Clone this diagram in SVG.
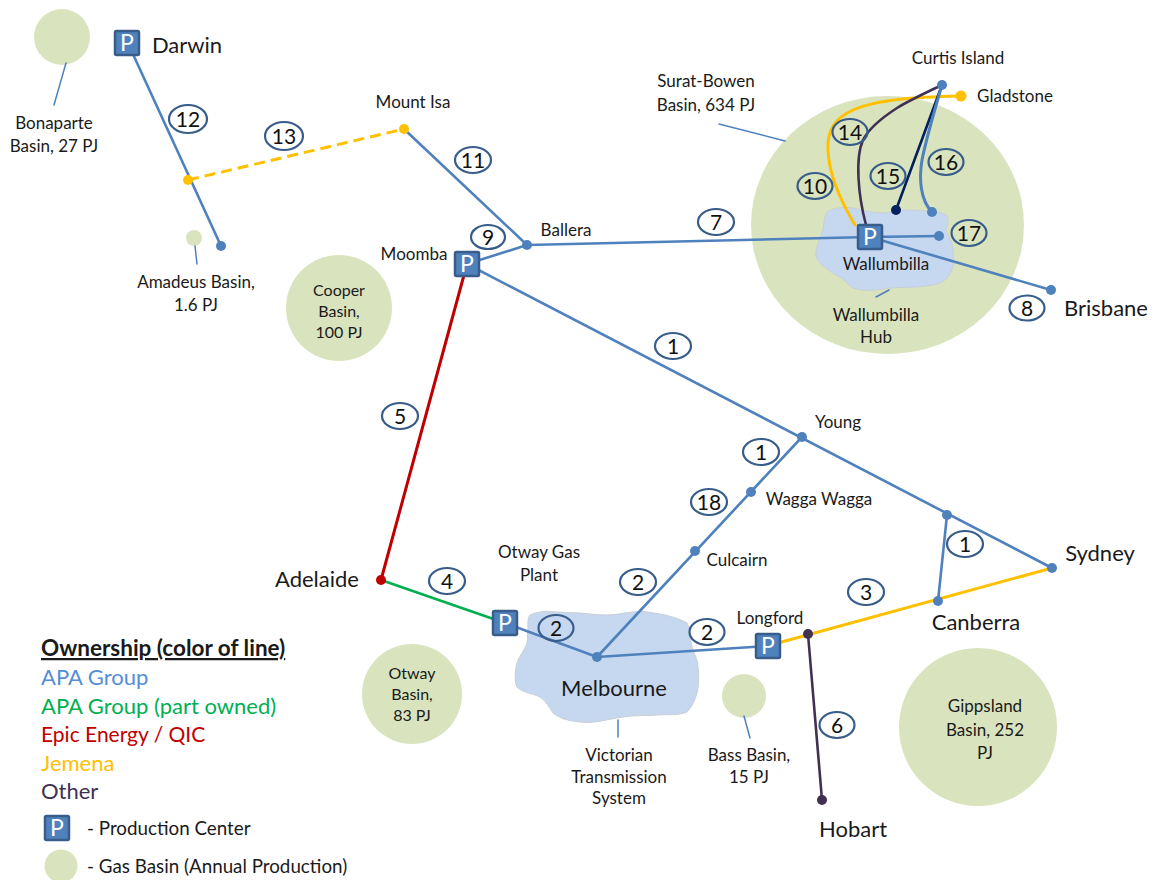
<svg xmlns="http://www.w3.org/2000/svg" width="1154" height="880" viewBox="0 0 1154 880">
<style>
text{font-family:"Lato","Liberation Sans",sans-serif;fill:#1a1a1a;text-anchor:middle}
.s{font-size:17px}.t{font-size:16px}.m{font-size:22px}
.leg{font-size:22px;text-anchor:start}
.b{fill:#d9e4bf}
.hub{fill:#c6d8f0;stroke:#c9ced6;stroke-width:1}
.c{fill:none;stroke-linecap:round}
.apa{stroke:#4f81bd;stroke-width:2.6}
.thin{stroke:#4f81bd;stroke-width:1.5}
.jem{stroke:#ffc000;stroke-width:3}
.oth{stroke:#403152;stroke-width:2.6}
.dot{fill:#4f81bd}
.pb{fill:#4f81bd;stroke:#385d8a;stroke-width:2.5}
.pt{fill:#fff;font-size:23px}
.oval{fill:#fff;stroke:#385d8a;stroke-width:2.2}
.ovt{fill:#111;font-size:21px}
.ovn{fill:none}
</style>
<defs>
<g id="p"><rect class="pb" x="-12" y="-12" width="24" height="24" rx="1.5"/><text class="pt" y="8">P</text></g>
</defs>

<g id="basins">
<circle class="b" cx="62" cy="37" r="28"/>
<circle class="b" cx="194" cy="238" r="8"/>
<circle class="b" cx="339" cy="308" r="53"/>
<circle class="b" cx="412" cy="694" r="50"/>
<circle class="b" cx="744" cy="696" r="22"/>
<circle class="b" cx="978" cy="727" r="79"/>
<ellipse class="b" cx="887.500" cy="225" rx="136.500" ry="129"/>
<circle class="b" cx="61" cy="866" r="16.500"/>
</g>

<g id="hubs">
<path class="hub" d="M827 212C835 207 845 207 853 208C863 210 873 213 883 213C892 213 898 210 907 210C917 210 927 211 937 212C944 213 949 216 948 220C948 225 945 229 947 233C950 238 953 244 953 250C953 256 954 261 953 267C950 275 947 280 940 283C925 288 905 287 890 288C877 290 865 292 853 288C848 285 845 280 840 277C830 272 821 266 816 257C815 248 820 238 823 230C824 223 824 217 827 212Z"/>
<path class="hub" d="M530 615C538 611 548 611 557 612C565 612 572 613 580 613C590 614 598 615 607 615C620 615 634 610 647 612C662 614 677 617 687 623C691 630 690 640 692 647C694 654 698 660 698 667C699 676 699 685 697 693C695 700 692 707 687 712C678 716 667 714 657 715C646 716 634 715 623 717C608 719 594 724 580 722C570 721 560 719 553 713C549 707 546 701 540 697C532 693 523 693 517 687C514 680 515 671 517 663C519 656 525 650 527 643C528 638 527 634 528 630C528 624 527 619 530 615Z"/>
</g>

<g id="connectors">
<line class="c thin" x1="66" y1="63" x2="54" y2="105"/>
<line class="c thin" x1="195" y1="246" x2="197" y2="264"/>
<line class="c thin" x1="719" y1="124" x2="785" y2="141"/>
<line class="c thin" x1="876" y1="297" x2="889" y2="290"/>
<line class="c thin" x1="618" y1="720" x2="618" y2="737"/>
<line class="c thin" x1="744" y1="716" x2="750" y2="738"/>

<line class="c apa" x1="132" y1="52" x2="221" y2="246"/>
<line class="jem" fill="none" x1="188" y1="180" x2="404" y2="129" stroke-dasharray="11 6"/>
<line class="c apa" x1="404" y1="129" x2="527" y2="245"/>
<line class="c apa" x1="467" y1="264" x2="527" y2="245"/>
<line class="c apa" x1="527" y1="245" x2="870" y2="237"/>
<line class="c apa" x1="870" y1="237" x2="939" y2="236"/>
<line class="c apa" x1="870" y1="237" x2="1051" y2="290"/>
<line class="c apa" x1="467" y1="264" x2="1052" y2="568"/>
<line class="c apa" x1="802" y1="437" x2="597" y2="657"/>
<line class="c apa" x1="947" y1="515" x2="938" y2="601"/>
<line class="c apa" x1="505" y1="623" x2="597" y2="657"/>
<line class="c apa" x1="597" y1="657" x2="767" y2="646"/>
<line class="c" stroke="#c00000" stroke-width="3" x1="467" y1="264" x2="381" y2="580"/>
<line class="c" stroke="#00b050" stroke-width="2.600" x1="381" y1="580" x2="505" y2="623"/>
<line class="c jem" x1="767" y1="646" x2="1052" y2="568"/>
<line class="c oth" x1="808" y1="634" x2="822" y2="800"/>
<path class="c jem" d="M961 96C925 97 880 98 853 110C835 118 827 130 828 150C829 178 843 205 855 225"/>
<path class="c oth" d="M942 85C925 93 908 101 897 108C880 119 868 130 863 140C855 158 858 195 866 225"/>
<line class="c" stroke="#002060" stroke-width="2.600" x1="942" y1="85" x2="896" y2="210"/>
<path class="c" stroke="#4f81bd" stroke-width="3" d="M942 85C934 112 926 140 922 160C919 178 920 200 932 212"/>
</g>

<g id="dots">
<circle class="dot" cx="221" cy="246" r="5"/>
<circle cx="188" cy="180" r="5" fill="#ffc000"/>
<circle cx="404" cy="129" r="5" fill="#ffc000"/>
<circle class="dot" cx="527" cy="245" r="5"/>
<circle class="dot" cx="942" cy="85" r="5"/>
<circle cx="961" cy="96" r="5.500" fill="#ffc000"/>
<circle cx="896" cy="210" r="5" fill="#002060"/>
<circle class="dot" cx="932" cy="212" r="5"/>
<circle class="dot" cx="939" cy="236" r="5"/>
<circle class="dot" cx="1051" cy="290" r="5"/>
<circle class="dot" cx="802" cy="437" r="5"/>
<circle class="dot" cx="751" cy="492" r="5"/>
<circle class="dot" cx="695" cy="551" r="5"/>
<circle class="dot" cx="947" cy="515" r="5"/>
<circle class="dot" cx="1052" cy="568" r="5"/>
<circle class="dot" cx="938" cy="601" r="5"/>
<circle class="dot" cx="597" cy="657" r="5"/>
<circle cx="381" cy="580" r="5" fill="#c00000"/>
<circle cx="808" cy="634" r="5" fill="#403152"/>
<circle cx="822" cy="800" r="5" fill="#403152"/>
</g>

<g id="production">
<use href="#p" x="127" y="43"/>
<use href="#p" x="467" y="264"/>
<use href="#p" x="870" y="237"/>
<use href="#p" x="505" y="623"/>
<use href="#p" x="768" y="646"/>
<use href="#p" x="57" y="828"/>
</g>

<g id="labels" transform="translate(0 1)">
<text class="m" x="187" y="52">Darwin</text>
<text class="s"><tspan x="54" y="128">Bonaparte</tspan><tspan x="54" y="151">Basin, 27 PJ</tspan></text>
<text class="s"><tspan x="196" y="287">Amadeus Basin,</tspan><tspan x="196" y="310">1.6 PJ</tspan></text>
<text class="s" x="413" y="107">Mount Isa</text>
<text class="s" x="566" y="235">Ballera</text>
<text class="s" x="414" y="259">Moomba</text>
<text class="t"><tspan x="339" y="295">Cooper</tspan><tspan x="339" y="316">Basin,</tspan><tspan x="339" y="337">100 PJ</tspan></text>
<text class="s"><tspan x="706" y="86">Surat-Bowen</tspan><tspan x="706" y="110">Basin, 634 PJ</tspan></text>
<text class="s" x="958" y="63">Curtis Island</text>
<text class="s" x="1015" y="101">Gladstone</text>
<text class="s" x="886" y="269">Wallumbilla</text>
<text class="s"><tspan x="876" y="320">Wallumbilla</tspan><tspan x="876" y="342">Hub</tspan></text>
<text class="m" x="1106" y="315">Brisbane</text>
<text class="s" x="838" y="427">Young</text>
<text class="s" x="819" y="504">Wagga Wagga</text>
<text class="s" x="737" y="565">Culcairn</text>
<text class="m" x="1100" y="560">Sydney</text>
<text class="m" x="976" y="629">Canberra</text>
<text class="m" x="317" y="586">Adelaide</text>
<text class="s"><tspan x="539" y="557">Otway Gas</tspan><tspan x="539" y="580">Plant</tspan></text>
<text class="s" x="770" y="623">Longford</text>
<text class="m" x="614" y="695">Melbourne</text>
<text class="t"><tspan x="412" y="678">Otway</tspan><tspan x="412" y="699">Basin,</tspan><tspan x="412" y="720">83 PJ</tspan></text>
<text class="s"><tspan x="619" y="760">Victorian</tspan><tspan x="619" y="782">Transmission</tspan><tspan x="619" y="803">System</tspan></text>
<text class="s"><tspan x="749" y="760">Bass Basin,</tspan><tspan x="749" y="782">15 PJ</tspan></text>
<text class="s"><tspan x="985" y="711">Gippsland</tspan><tspan x="985" y="735">Basin, 252</tspan><tspan x="985" y="758">PJ</tspan></text>
<text class="m" x="853" y="836">Hobart</text>
</g>

<g id="route-numbers">
<g id="n12"><ellipse class="oval" cx="188" cy="119" rx="19" ry="14"/><text class="ovt" x="188" y="126.500">12</text></g>
<g id="n13"><ellipse class="oval" cx="284" cy="136" rx="19" ry="14"/><text class="ovt" x="284" y="143.500">13</text></g>
<g id="n11"><ellipse class="oval" cx="473" cy="160" rx="18" ry="13"/><text class="ovt" x="473" y="167.500">11</text></g>
<g id="n9"><ellipse class="oval" cx="488" cy="237" rx="17" ry="12"/><text class="ovt" x="488" y="244.500">9</text></g>
<g id="n7"><ellipse class="oval" cx="716" cy="222" rx="18" ry="13"/><text class="ovt" x="716" y="229.500">7</text></g>
<g id="n10"><ellipse class="oval ovn" cx="815" cy="186" rx="17.500" ry="13"/><text class="ovt" x="815" y="193.500">10</text></g>
<g id="n14"><ellipse class="oval ovn" cx="850" cy="132" rx="17.500" ry="13"/><text class="ovt" x="850" y="139.500">14</text></g>
<g id="n15"><ellipse class="oval ovn" cx="888" cy="176" rx="17.500" ry="13"/><text class="ovt" x="888" y="183.500">15</text></g>
<g id="n16"><ellipse class="oval ovn" cx="946" cy="162" rx="17.500" ry="13"/><text class="ovt" x="946" y="169.500">16</text></g>
<g id="n17"><ellipse class="oval ovn" cx="969" cy="233" rx="17.500" ry="13"/><text class="ovt" x="969" y="240.500">17</text></g>
<g id="n8"><ellipse class="oval" cx="1027" cy="308" rx="17.500" ry="12.500"/><text class="ovt" x="1027" y="315.500">8</text></g>
<g id="n1a"><ellipse class="oval" cx="673" cy="346" rx="18" ry="13"/><text class="ovt" x="673" y="353.500">1</text></g>
<g id="n5"><ellipse class="oval" cx="400" cy="416" rx="18" ry="13"/><text class="ovt" x="400" y="423.500">5</text></g>
<g id="n1b"><ellipse class="oval" cx="761" cy="452" rx="18" ry="13"/><text class="ovt" x="761" y="459.500">1</text></g>
<g id="n18"><ellipse class="oval" cx="709" cy="502" rx="18" ry="13"/><text class="ovt" x="709" y="509.500">18</text></g>
<g id="n1c"><ellipse class="oval" cx="965" cy="544" rx="18" ry="13"/><text class="ovt" x="965" y="551.500">1</text></g>
<g id="n2a"><ellipse class="oval" cx="638" cy="582" rx="18" ry="13"/><text class="ovt" x="638" y="589.500">2</text></g>
<g id="n3"><ellipse class="oval" cx="866" cy="592" rx="18" ry="13"/><text class="ovt" x="866" y="599.500">3</text></g>
<g id="n4"><ellipse class="oval" cx="447" cy="581" rx="18" ry="13"/><text class="ovt" x="447" y="588.500">4</text></g>
<g id="n2b"><ellipse class="oval ovn" cx="556" cy="628" rx="17.500" ry="13"/><text class="ovt" x="556" y="635.500">2</text></g>
<g id="n2c"><ellipse class="oval ovn" cx="707" cy="632" rx="17.500" ry="13"/><text class="ovt" x="707" y="639.500">2</text></g>
<g id="n6"><ellipse class="oval" cx="837" cy="725" rx="17.500" ry="13"/><text class="ovt" x="837" y="732.500">6</text></g>
</g>

<g id="legend" transform="translate(0 1)">
<text class="leg" x="41" y="655" font-weight="700" text-decoration="underline" style="font-size:22.500px">Ownership (color of line)</text>
<text class="leg" x="41" y="684" style="fill:#558ed5">APA Group</text>
<text class="leg" x="41" y="713" style="fill:#00b050">APA Group (part owned)</text>
<text class="leg" x="41" y="741" style="fill:#c00000;font-size:21px">Epic Energy / QIC</text>
<text class="leg" x="41" y="770" style="fill:#ffc000">Jemena</text>
<text class="leg" x="41" y="798" style="fill:#403152">Other</text>
<text x="87" y="834" style="font-size:18.800px;text-anchor:start">- Production Center</text>
<text x="87" y="872" style="font-size:18.800px;text-anchor:start">- Gas Basin (Annual Production)</text>
</g>
</svg>
